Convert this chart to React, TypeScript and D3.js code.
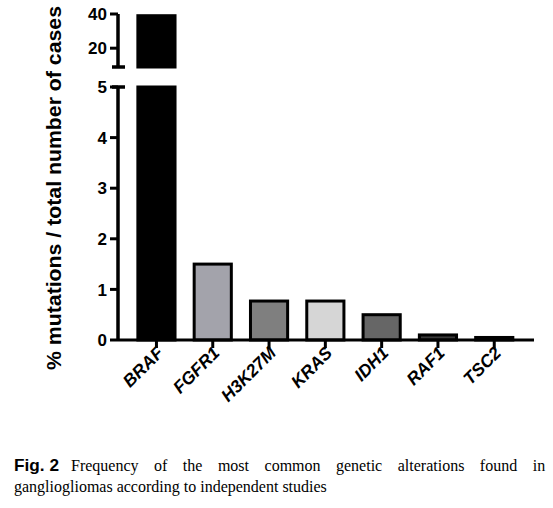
import * as d3 from 'd3';

// data
const GENES = ['BRAF', 'FGFR1', 'H3K27M', 'KRAS', 'IDH1', 'RAF1', 'TSC2'];
const VALUES = [39, 1.5, 0.77, 0.77, 0.5, 0.1, 0.05];
const FILLS = ['#000000', '#a3a3ab', '#7f7f7f', '#d6d6d6', '#666666', '#3a3a3a', '#3a3a3a'];
const LOWER_TICKS = [0, 1, 2, 3, 4, 5];
const UPPER_TICKS = [20, 40];
const BREAK = 5;

const W = 553;
const H = 508;
const AXIS_X = 118;

const App = () => {
  const xScale = d3.scaleBand<string>()
    .domain(GENES)
    .range([128.3, 522.4])
    .paddingInner(0.34)
    .paddingOuter(0.17);

  // two y segments for the broken axis
  const yLow = d3.scaleLinear().domain([0, BREAK]).range([340, 87]);
  const yHigh = d3.scaleLinear().domain([9, 40]).range([67, 14]);

  const sans = 'Liberation Sans, Arial, sans-serif';
  const serif = 'Liberation Serif, Times New Roman, serif';

  const bars = GENES.map((g, i) => {
    const x = xScale(g) ?? 0;
    const v = VALUES[i];
    const low = Math.min(v, BREAK);
    return (
      <g key={g}>
        <rect x={x} y={yLow(low)} width={xScale.bandwidth()} height={yLow(0) - yLow(low)}
          fill={FILLS[i]} stroke="#000" strokeWidth={3} />
        {v > BREAK && (
          <rect x={x} y={yHigh(v)} width={xScale.bandwidth()} height={yHigh(9) - yHigh(v)}
            fill={FILLS[i]} stroke="#000" strokeWidth={3} />
        )}
      </g>
    );
  });

  return (
    <svg width={W} height={H} style={{ position: 'absolute', left: 0, top: 0, background: '#fff' }}>
      <rect width={W} height={H} fill="#fff" />
      {bars}

      {/* lower y axis */}
      <line x1={AXIS_X} x2={AXIS_X} y1={yLow(BREAK)} y2={yLow(0)} stroke="#000" strokeWidth={3.5} />
      <line x1={AXIS_X - 6} x2={AXIS_X + 7} y1={yLow(BREAK)} y2={yLow(BREAK)} stroke="#000" strokeWidth={3.5} />
      {LOWER_TICKS.map((t) => (
        <g key={t} transform={`translate(0,${yLow(t)})`}>
          <line x1={AXIS_X - 8} x2={AXIS_X} stroke="#000" strokeWidth={3} />
          <text x={AXIS_X - 11} dy="0.36em" textAnchor="end" fontFamily={sans} fontWeight="bold" fontSize={17}>{t}</text>
        </g>
      ))}

      {/* upper y axis */}
      <line x1={AXIS_X} x2={AXIS_X} y1={yHigh(40)} y2={yHigh(9)} stroke="#000" strokeWidth={3.5} />
      <line x1={AXIS_X - 6} x2={AXIS_X + 7} y1={yHigh(9)} y2={yHigh(9)} stroke="#000" strokeWidth={3.5} />
      {UPPER_TICKS.map((t) => (
        <g key={t} transform={`translate(0,${yHigh(t)})`}>
          <line x1={AXIS_X - 8} x2={AXIS_X} stroke="#000" strokeWidth={3} />
          <text x={AXIS_X - 11} dy="0.36em" textAnchor="end" fontFamily={sans} fontWeight="bold" fontSize={17}>{t}</text>
        </g>
      ))}

      {/* x axis */}
      <line x1={AXIS_X} x2={534} y1={yLow(0)} y2={yLow(0)} stroke="#000" strokeWidth={3} />
      {GENES.map((g) => {
        const cx = (xScale(g) ?? 0) + xScale.bandwidth() / 2;
        return (
          <g key={g}>
            <line x1={cx} x2={cx} y1={yLow(0)} y2={yLow(0) + 8} stroke="#000" strokeWidth={3} />
            <text transform={`translate(${cx + 8},${yLow(0) + 14}) rotate(-45)`} textAnchor="end"
              fontFamily={sans} fontWeight="bold" fontStyle="italic" fontSize={17.5}>{g}</text>
          </g>
        );
      })}

      <text transform={`translate(61,188) rotate(-90)`} textAnchor="middle"
        fontFamily={sans} fontWeight="bold" fontSize={20} textLength={364} lengthAdjust="spacingAndGlyphs">% mutations / total number of cases</text>

      {/* caption */}
      <text x={14} y={471} fontFamily={sans} fontWeight="bold" fontSize={16.5} textLength={45} lengthAdjust="spacingAndGlyphs">Fig. 2</text>
      <text x={71} y={471} fontFamily={serif} fontSize={16} wordSpacing={11.5}>Frequency of the most common genetic alterations found in</text>
      <text x={14} y={492} fontFamily={serif} fontSize={16}>gangliogliomas according to independent studies</text>
    </svg>
  );
};

export default App;
